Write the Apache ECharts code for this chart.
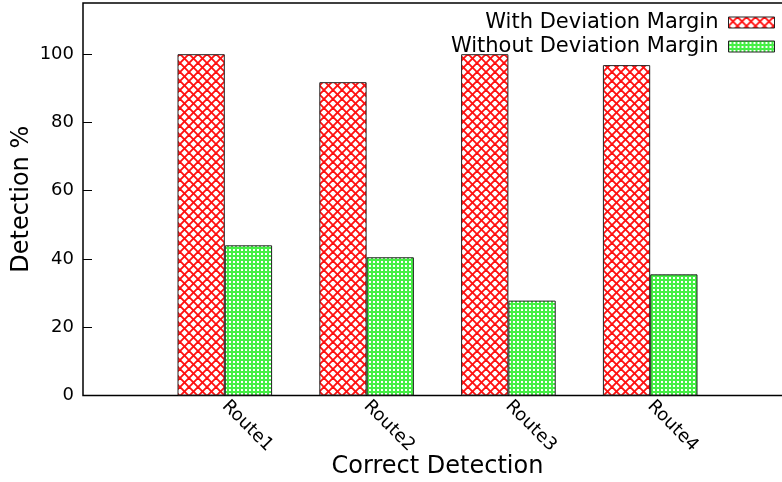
<!DOCTYPE html>
<html>
<head>
<meta charset="utf-8">
<script src="https://cdn.jsdelivr.net/npm/echarts@6/dist/echarts.min.js"></script>
<style>
  html, body { margin: 0; padding: 0; background: #fff; }
  #chart { width: 782px; height: 482px; }
</style>
</head>
<body>
<div id="chart"></div>
<script>
// Route names and detection rates (%)
var routes = ['Route1', 'Route2', 'Route3', 'Route4'];
var withMargin = [100, 91.8, 100, 96.8];
var withoutMargin = [44.0, 40.5, 27.8, 35.5];
var yTicks = [0, 20, 40, 60, 80, 100];

var FONT = 'DejaVu Sans';

// Hatch fills
function redHatch() {
  var s = 9;
  var c = document.createElement('canvas');
  c.width = s; c.height = s;
  var g = c.getContext('2d');
  g.fillStyle = '#ffffff';
  g.fillRect(0, 0, s, s);
  g.strokeStyle = '#ff1010';
  g.lineWidth = 1.9;
  for (var k = -s; k <= s; k += s) {
    g.beginPath(); g.moveTo(k, 0); g.lineTo(k + s, s); g.stroke();
    g.beginPath(); g.moveTo(k, s); g.lineTo(k + s, 0); g.stroke();
  }
  return c;
}
function greenHatch() {
  var c = document.createElement('canvas');
  c.width = 4; c.height = 4;
  var g = c.getContext('2d');
  g.fillStyle = '#44f044';
  g.fillRect(0, 0, 4, 4);
  g.fillStyle = '#ffffff';
  g.fillRect(1, 1, 2, 2);
  return c;
}

function pairs(vals) {
  return vals.map(function (v, i) { return [i + 1, v]; });
}

var chart = echarts.init(document.getElementById('chart'), null, { renderer: 'canvas' });

chart.setOption({
  animation: false,
  backgroundColor: '#ffffff',
  textStyle: { fontFamily: FONT },
  grid: {
    left: 83, top: 3, width: 709, height: 392.5,
    outerBoundsMode: 'none',
    containLabel: false,
    show: true, borderColor: '#000', borderWidth: 1.5, backgroundColor: 'transparent'
  },
  legend: {
    orient: 'vertical',
    right: 7, top: 12,
    padding: 0,
    align: 'right',
    icon: 'rect',
    itemWidth: 46, itemHeight: 11,
    itemGap: 3,
    textStyle: { fontFamily: FONT, fontSize: 21, color: '#000', lineHeight: 20, padding: [0, 5, 0, 0] },
    itemStyle: { borderColor: '#222', borderWidth: 1 },
    data: ['With Deviation Margin', 'Without Deviation Margin']
  },
  xAxis: {
    type: 'value',
    min: 0, max: 5, interval: 1,
    name: 'Correct Detection',
    nameLocation: 'middle',
    nameGap: 59,
    nameMoveOverlap: false,
    nameTextStyle: { fontFamily: FONT, fontSize: 24, color: '#000' },
    axisLine: { show: false },
    axisTick: { show: false },
    splitLine: { show: false },
    axisLabel: {
      rotate: -45,
      margin: 8,
      fontFamily: FONT, fontSize: 18, color: '#000',
      formatter: function (v) { return routes[v - 1] || ''; }
    }
  },
  yAxis: {
    type: 'value',
    min: 0, max: 115, interval: 20,
    name: 'Detection %',
    nameLocation: 'middle',
    nameGap: 49,
    nameMoveOverlap: false,
    nameTextStyle: { fontFamily: FONT, fontSize: 24, color: '#000' },
    axisLine: { show: false },
    axisTick: { show: true, inside: true, length: 9, lineStyle: { color: '#000', width: 1 } },
    splitLine: { show: false },
    axisLabel: {
      margin: 9,
      fontFamily: FONT, fontSize: 18, color: '#000',
      showMaxLabel: false,
      formatter: function (v) { return yTicks.indexOf(v) >= 0 ? String(v) : ''; }
    }
  },
  series: [
    {
      name: 'With Deviation Margin',
      type: 'bar',
      barWidth: 47.3,
      barGap: '0%',
      data: pairs(withMargin),
      itemStyle: { color: { image: redHatch(), repeat: 'repeat' }, borderColor: '#222', borderWidth: 1 }
    },
    {
      name: 'Without Deviation Margin',
      type: 'bar',
      barWidth: 47.3,
      barGap: '0%',
      data: pairs(withoutMargin),
      itemStyle: { color: { image: greenHatch(), repeat: 'repeat' }, borderColor: '#222', borderWidth: 1 }
    }
  ]
});
</script>
</body>
</html>
